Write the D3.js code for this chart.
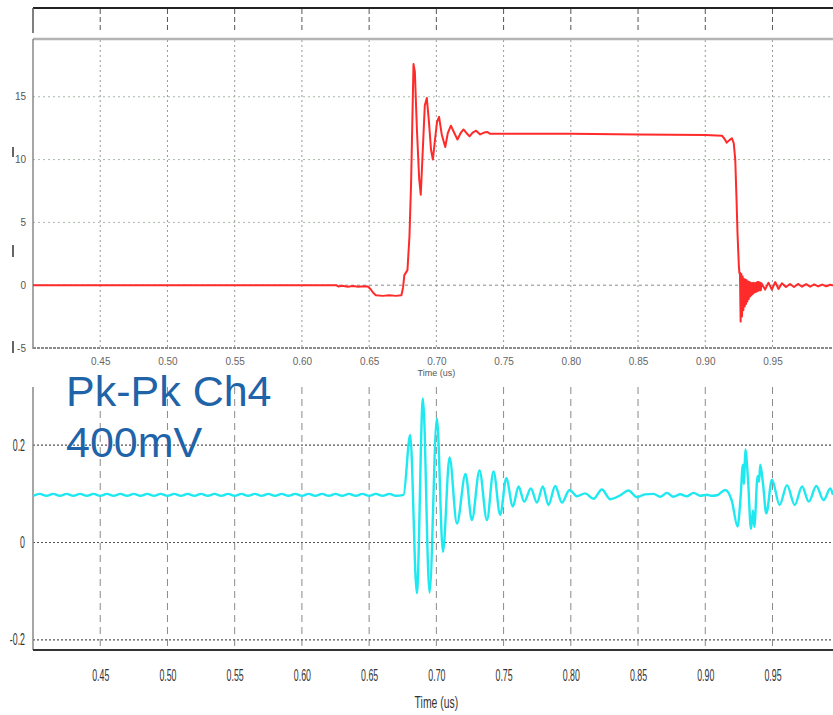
<!DOCTYPE html>
<html>
<head>
<meta charset="utf-8">
<script src="https://cdn.jsdelivr.net/npm/d3@7"></script>
<style>
  html, body { margin: 0; padding: 0; background: #fff; }
  svg { display: block; }
</style>
</head>
<body>
<svg id="chart" width="833" height="715"></svg>
<script>
// ---- data -----------------------------------------------------------
const timeTicks = [0.45, 0.50, 0.55, 0.60, 0.65, 0.70, 0.75, 0.80, 0.85, 0.90, 0.95];
const ch1Ticks = [15, 10, 5, 0, -5];
const ch4Ticks = [0.2, 0, -0.2];
const axisTitle = "Time (us)";
const noteLines = ["Pk-Pk Ch4", "400mV"];

// Channel 1 (red): [time us, amplitude]
const ch1Trace = [
  [0.400, 0], [0.500, 0], [0.600, 0], [0.6255, 0],
  [0.627, -0.1], [0.630, -0.05], [0.634, -0.12], [0.638, -0.06], [0.642, -0.12],
  [0.646, -0.08], [0.649, -0.1], [0.651, -0.3], [0.653, -0.6], [0.655, -0.8],
  [0.660, -0.85], [0.665, -0.8], [0.670, -0.85], [0.6740, -0.8],
  [0.6752, -0.2], [0.6762, 0.8], [0.6785, 1.2], [0.6800, 3.9], [0.6812, 8.1],
  [0.6822, 13.4], [0.6830, 17.6], [0.6840, 17.0], [0.6855, 12.5], [0.6872, 8.5],
  [0.6884, 7.2], [0.6898, 10.5], [0.6914, 14.3], [0.6929, 14.9], [0.6945, 13.0],
  [0.6960, 10.8], [0.6974, 10.0], [0.6990, 11.6], [0.7005, 13.0], [0.7020, 13.4],
  [0.7040, 12.0], [0.7066, 11.0], [0.7085, 12.1], [0.7108, 12.7], [0.7130, 12.2],
  [0.7157, 11.6], [0.7180, 12.1], [0.7202, 12.4], [0.7225, 12.1], [0.7247, 11.85],
  [0.7270, 12.15], [0.7296, 12.3], [0.7326, 12.0], [0.7355, 12.15], [0.7380, 12.2],
  [0.7400, 12.05], [0.7500, 12.05], [0.8000, 12.05], [0.8500, 12.0], [0.9000, 11.95],
  [0.9124, 11.9], [0.9140, 11.7], [0.9160, 11.35], [0.9180, 11.55], [0.9198, 11.7],
  [0.9212, 11.3], [0.9223, 10.0], [0.9232, 7.0], [0.9240, 4.1], [0.9250, 1.5],
  [0.9254, 0.96],
  [0.9258, 1.0], [0.9263, -2.9], [0.9268, 0.9], [0.9273, -2.5], [0.9278, 0.7],
  [0.9283, -2.0], [0.9288, 0.5], [0.9293, -1.7], [0.9298, 0.45], [0.9303, -1.5],
  [0.9308, 0.4], [0.9313, -1.3], [0.9318, 0.3], [0.9323, -1.1], [0.9328, 0.25],
  [0.9333, -0.9], [0.9338, 0.2], [0.9343, -0.8], [0.9348, 0.15], [0.9353, -0.7],
  [0.9358, 0.2], [0.9363, -0.6], [0.9368, 0.15], [0.9373, -0.55], [0.9378, 0.2],
  [0.9383, -0.5], [0.9388, 0.25], [0.9393, -0.45], [0.9398, 0.25], [0.9403, -0.4],
  [0.9408, 0.2], [0.9413, -0.4], [0.9418, 0.15],
  [0.9445, -0.35], [0.9470, 0.2], [0.9495, -0.35], [0.9520, 0.25], [0.9545, -0.3],
  [0.9570, 0.15], [0.9600, -0.15], [0.9630, 0.1], [0.9660, -0.15], [0.9690, 0.1],
  [0.9720, -0.12], [0.9750, 0.08], [0.9780, -0.12], [0.9810, 0.06], [0.9840, -0.1],
  [0.9870, 0.05], [0.9900, -0.08], [0.9930, 0.04], [0.9950, -0.02]
];

// Channel 4 (cyan): [time us, volts]
const ch4Trace = [
  [0.400, 0.096], [0.405, 0.100], [0.410, 0.096], [0.415, 0.100], [0.420, 0.096],
  [0.425, 0.100], [0.430, 0.096], [0.435, 0.100], [0.440, 0.096], [0.445, 0.100],
  [0.450, 0.096], [0.455, 0.100], [0.460, 0.096], [0.465, 0.100], [0.470, 0.096],
  [0.475, 0.100], [0.480, 0.096], [0.485, 0.100], [0.490, 0.096], [0.495, 0.100],
  [0.500, 0.096], [0.505, 0.100], [0.510, 0.096], [0.515, 0.100], [0.520, 0.096],
  [0.525, 0.100], [0.530, 0.096], [0.535, 0.100], [0.540, 0.096], [0.545, 0.100],
  [0.550, 0.096], [0.555, 0.100], [0.560, 0.096], [0.565, 0.100], [0.570, 0.096],
  [0.575, 0.100], [0.580, 0.096], [0.585, 0.100], [0.590, 0.096], [0.595, 0.100],
  [0.600, 0.096], [0.605, 0.100], [0.610, 0.096], [0.615, 0.100], [0.620, 0.096],
  [0.625, 0.100], [0.630, 0.096], [0.635, 0.100], [0.640, 0.096], [0.645, 0.100],
  [0.650, 0.096], [0.655, 0.100], [0.660, 0.096], [0.665, 0.100], [0.670, 0.096],
  [0.6756, 0.098],
  [0.6805, 0.221], [0.6855, -0.104], [0.6900, 0.296], [0.6949, -0.103], [0.7004, 0.255],
  [0.7049, -0.019], [0.7098, 0.175], [0.7153, 0.039], [0.7217, 0.141], [0.7264, 0.046],
  [0.7321, 0.148], [0.7376, 0.046], [0.7425, 0.146], [0.7475, 0.057], [0.7520, 0.132],
  [0.7569, 0.074], [0.7611, 0.115], [0.7653, 0.084], [0.7703, 0.111], [0.7748, 0.082],
  [0.7792, 0.115], [0.7834, 0.077], [0.7884, 0.116], [0.7934, 0.082], [0.7990, 0.108],
  [0.8045, 0.095], [0.8107, 0.101], [0.8169, 0.090], [0.8231, 0.109], [0.8293, 0.089],
  [0.8368, 0.097], [0.8429, 0.107], [0.8492, 0.093], [0.8550, 0.099], [0.8615, 0.100],
  [0.8665, 0.094], [0.8715, 0.102], [0.8764, 0.094], [0.8814, 0.099], [0.8864, 0.095],
  [0.8913, 0.102], [0.8963, 0.096], [0.9013, 0.098], [0.9050, 0.096], [0.9087, 0.097],
  [0.9149, 0.108], [0.9198, 0.085], [0.9240, 0.033], [0.9262, 0.090], [0.9280, 0.160],
  [0.9288, 0.120], [0.9298, 0.191], [0.9318, 0.129], [0.9340, 0.028], [0.9355, 0.066],
  [0.9365, 0.032], [0.9389, 0.136], [0.9400, 0.125], [0.9409, 0.160], [0.9429, 0.122],
  [0.9454, 0.060], [0.9496, 0.129], [0.9553, 0.077], [0.9608, 0.118], [0.9665, 0.077],
  [0.9720, 0.115], [0.9770, 0.084], [0.9826, 0.116], [0.9880, 0.087], [0.9930, 0.111],
  [0.9950, 0.098]
];

// ---- layout ---------------------------------------------------------
const svg = d3.select("#chart");
svg.append("rect").attr("width", 833).attr("height", 715).attr("fill", "#fff");

const left = 33, right = 833;
const x = d3.scaleLinear().domain([0.40, 0.995]).range([left, right]);

const top1 = 39, bottom1 = 348;
const y1 = d3.scaleLinear().domain([-5, 19.6]).range([bottom1, top1]);

const top2 = 387, bottom2 = 650;
const y2 = d3.scaleLinear().domain([-0.221, 0.3196]).range([bottom2, top2]);

const fontMain = "'Liberation Sans', Arial, sans-serif";

function hline(g, yy, x0, x1, stroke, width, dash) {
  return g.append("line").attr("x1", x0).attr("x2", x1).attr("y1", yy).attr("y2", yy)
    .attr("stroke", stroke).attr("stroke-width", width).attr("stroke-dasharray", dash || null);
}
function vline(g, xx, ya, yb, stroke, width, dash) {
  return g.append("line").attr("x1", xx).attr("x2", xx).attr("y1", ya).attr("y2", yb)
    .attr("stroke", stroke).attr("stroke-width", width).attr("stroke-dasharray", dash || null);
}

// ---- header strip above the upper plot ------------------------------
const strip = svg.append("g");
hline(strip, 8, left, right, "#222", 2);
vline(strip, left, 8, 33, "#555", 1.5);
timeTicks.forEach(t => vline(strip, x(t), 9, 33, "#555", 1, "5,3"));

// ---- upper plot (channel 1) -----------------------------------------
const p1 = svg.append("g");
timeTicks.forEach(t => vline(p1, x(t), top1 + 1, bottom1, "#999", 1, "2,3"));
ch1Ticks.forEach(v => {
  if (v === -5) return;
  const grey = v === 0 ? "#8a8a8a" : "#a9b8a9";
  hline(p1, y1(v), left, right, grey, 1, v === 0 ? "3,3" : "2,3");
});
hline(p1, top1, left, right, "#b4b4b4", 2.5);
hline(p1, bottom1, left, right, "#666", 1.5, "3,1");
vline(p1, left, top1, bottom1 + 1, "#888", 1.5);

const yAxis1 = d3.axisLeft(y1).tickValues(ch1Ticks).tickSize(0).tickPadding(7)
  .tickFormat(d => String(d));
p1.append("g").attr("transform", `translate(${left},0)`).call(yAxis1)
  .call(g => g.select(".domain").remove())
  .selectAll("text").attr("font-family", fontMain).attr("font-size", 10).attr("fill", "#555");

// small marks beside the upper scale
[[147, 157], [245, 257], [341, 353]].forEach(([a, b]) => vline(p1, 13, a, b, "#333", 1.5));

const xAxis1 = d3.axisBottom(x).tickValues(timeTicks).tickSize(0).tickPadding(0)
  .tickFormat(d3.format(".2f"));
p1.append("g").attr("transform", `translate(0,${bottom1 + 10})`).call(xAxis1)
  .call(g => g.select(".domain").remove())
  .selectAll("text").attr("font-family", fontMain).attr("font-size", 10).attr("fill", "#666");
p1.append("text").attr("x", x(0.70)).attr("y", 376).attr("text-anchor", "middle")
  .attr("font-family", fontMain).attr("font-size", 9).attr("fill", "#555").text(axisTitle);

svg.append("clipPath").attr("id", "clip1").append("rect")
  .attr("x", left).attr("y", top1).attr("width", right - left).attr("height", bottom1 - top1);
const line1 = d3.line().x(d => x(d[0])).y(d => y1(d[1]));
p1.append("path").datum(ch1Trace).attr("clip-path", "url(#clip1)")
  .attr("d", line1).attr("fill", "none").attr("stroke", "#ff2a2a")
  .attr("stroke-width", 2).attr("stroke-linejoin", "round");

// ---- lower plot (channel 4) -----------------------------------------
const p2 = svg.append("g");
timeTicks.forEach(t => vline(p2, x(t), top2, bottom2, "#8a8a8a", 1, "7,5"));
ch4Ticks.forEach(v => hline(p2, y2(v), left, right, "#555", 1.2, "2,2"));
vline(p2, left, top2, bottom2, "#888", 1.5);
hline(p2, bottom2, left, right, "#333", 2);

const condensed = "scale(0.55,1)";
const yAxis2 = d3.axisLeft(y2).tickValues(ch4Ticks).tickSize(0).tickPadding(0)
  .tickFormat(d => d === 0 ? "0" : d.toFixed(1));
p2.append("g").attr("transform", `translate(${left - 8},0)`).call(yAxis2)
  .call(g => g.select(".domain").remove())
  .selectAll("text").attr("font-family", fontMain).attr("font-size", 16)
  .attr("fill", "#333").attr("transform", condensed);

const xAxis2 = d3.axisBottom(x).tickValues(timeTicks).tickSize(0).tickPadding(0)
  .tickFormat(d3.format(".2f"));
p2.append("g").attr("transform", `translate(0,${bottom2 + 20})`).call(xAxis2)
  .call(g => g.select(".domain").remove())
  .selectAll("text").attr("font-family", fontMain).attr("font-size", 16)
  .attr("fill", "#333").attr("transform", condensed);
p2.append("text").attr("transform", `translate(${x(0.70)},708) scale(0.65,1)`)
  .attr("text-anchor", "middle").attr("font-family", fontMain).attr("font-size", 16)
  .attr("fill", "#333").text(axisTitle);

svg.append("clipPath").attr("id", "clip2").append("rect")
  .attr("x", left).attr("y", top2).attr("width", right - left).attr("height", bottom2 - top2);
const line2 = d3.line().x(d => x(d[0])).y(d => y2(d[1])).curve(d3.curveMonotoneX);
p2.append("path").datum(ch4Trace).attr("clip-path", "url(#clip2)")
  .attr("d", line2).attr("fill", "none").attr("stroke", "#1ee8f0")
  .attr("stroke-width", 2.4).attr("stroke-linejoin", "round");

// ---- annotation -----------------------------------------------------
const note = svg.append("text").attr("font-family", fontMain).attr("font-size", 43)
  .attr("fill", "#1f63a8");
noteLines.forEach((s, i) => note.append("tspan").attr("x", 66).attr("y", 406 + i * 51).text(s));
</script>
</body>
</html>
